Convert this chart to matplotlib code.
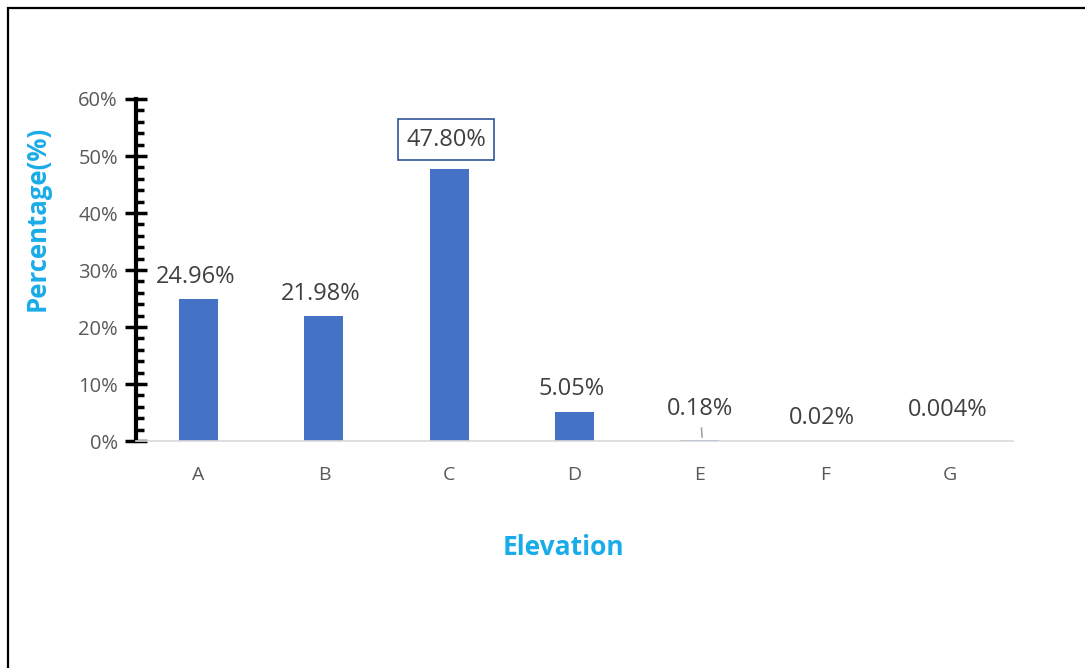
import matplotlib
matplotlib.use("Agg")
import matplotlib.pyplot as plt
from matplotlib.patches import Rectangle
from matplotlib.ticker import MultipleLocator, FuncFormatter

categories = ["A", "B", "C", "D", "E", "F", "G"]
percent = [24.96, 21.98, 47.80, 5.05, 0.18, 0.02, 0.004]
value_labels = ["24.96%", "21.98%", "47.80%", "5.05%", "0.18%", "0.02%", "0.004%"]
# label offsets above each bar top, in pixels
label_offsets = [22, 22, 29, 23, 31, 23, 31]

bar_color = "#4472C4"
title_color = "#1AACE8"
text_color = "#404040"

plt.rcParams["font.family"] = ["Open Sans", "DejaVu Sans"]

fig = plt.figure(figsize=(10.85, 6.68), dpi=100)
ax = fig.add_axes([0.1253, 0.3398, 0.8083, 0.512])

x = list(range(len(categories)))
ax.bar(x, percent, width=0.31, color=bar_color, zorder=2)

for i, (v, lab, off) in enumerate(zip(percent, value_labels, label_offsets)):
    kw = dict(ha="center", va="center", fontsize=17, color=text_color,
              textcoords="offset pixels", annotation_clip=False)
    if i == 2:
        kw["bbox"] = dict(boxstyle="square,pad=0.35", fc="white",
                          ec="#2F5597", lw=1.2)
    if i == 4:
        kw["arrowprops"] = dict(arrowstyle="-", color="#A6A6A6", lw=1.2,
                                shrinkA=3, shrinkB=2)
        ax.annotate(lab, xy=(i + 0.02, v), xytext=(-2, off), **kw)
    else:
        ax.annotate(lab, xy=(i, v), xytext=(-3, off), **kw)

ax.set_xlim(-0.5, 6.5)
ax.set_ylim(0, 60)
ax.set_xticks(x)
ax.set_xticklabels(categories)
ax.yaxis.set_major_locator(MultipleLocator(10))
ax.yaxis.set_minor_locator(MultipleLocator(2))
ax.yaxis.set_major_formatter(FuncFormatter(lambda v, p: "%d%%" % v))

for side in ["top", "right"]:
    ax.spines[side].set_visible(False)
ax.spines["left"].set_linewidth(3)
ax.spines["left"].set_color("black")
ax.spines["bottom"].set_color("#D9D9D9")
ax.spines["bottom"].set_linewidth(1.2)

ax.tick_params(axis="x", length=0, pad=18, labelsize=14, labelcolor="#595959")
ax.tick_params(axis="y", which="major", direction="inout", length=16, width=2.5,
               pad=5, labelsize=14.5, labelcolor="#595959")
ax.tick_params(axis="y", which="minor", direction="in", length=6, width=2.5)

ax.set_ylabel("Percentage(%)", fontsize=18.5, fontweight="bold", color=title_color)
ax.yaxis.set_label_coords(-0.113, 0.652)
ax.set_xlabel("Elevation", fontsize=19, fontweight="bold", color=title_color)
ax.xaxis.set_label_coords(0.488, -0.31)
ax.xaxis.label.set_va("center")
ax.yaxis.label.set_va("center")

# outer frame of the figure
fig.patches.append(Rectangle((8 / 1085, -0.1), 1.2, (668 - 7.5) / 668 + 0.1,
                             transform=fig.transFigure, fill=False,
                             ec="black", lw=1.6, clip_on=False))

fig.savefig("out.png", dpi=100)
